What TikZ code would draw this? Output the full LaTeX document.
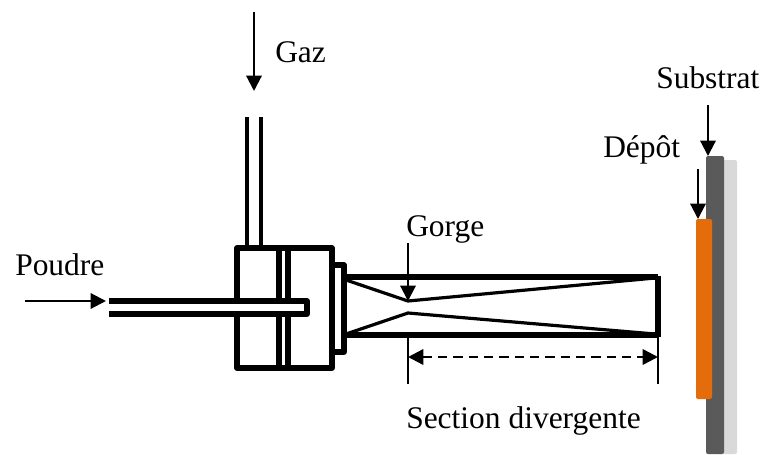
\documentclass[tikz,border=0pt]{standalone}
\usepackage{fontspec}
\setmainfont{Liberation Serif}
\usetikzlibrary{arrows.meta}
\definecolor{subdark}{HTML}{5A5A5A}
\definecolor{sublight}{HTML}{D9D9D9}
\definecolor{depot}{HTML}{E46C0A}
\tikzset{
  x=0.75pt,y=-0.75pt,
  wall/.style={line width=3.8pt,line join=round},
  thinwall/.style={line width=2.4pt},
  guide/.style={line width=1.6pt},
  flow/.style={line width=1.6pt,-{Triangle[length=11.5pt,width=11.5pt]}},
  label/.style={font=\fontsize{23.6}{26}\selectfont,anchor=base west,inner sep=0pt},
  plate/.style={rounded corners=1.5pt,draw=none}
}
\begin{document}
\begin{tikzpicture}
\useasboundingbox (0,0) rectangle (763,454);
% plates
\fill[sublight,plate] (716,160) rectangle (737,454);
\fill[subdark,plate] (706,156) rectangle (724,454);
\fill[depot,plate] (696,219) rectangle (712,399);
% labels
\node[label] (gaz) at (275,62) {Gaz};
\node[label] (substrat) at (656,88) {Substrat};
\node[label] (depotl) at (603,157) {Dépôt};
\node[label] (gorge) at (406,236) {Gorge};
\node[label] (poudre) at (15,275) {Poudre};
\node[label] (section) at (406,428) {Section divergente};
% coordinates
\coordinate (gazS) at (254,12);
\coordinate (gazE) at (254,91);
\coordinate (subS) at (708,105);
\coordinate (subE) at (708,156);
\coordinate (depS) at (698,169);
\coordinate (depE) at (698,219);
\coordinate (gorS) at (408,243);
\coordinate (gorE) at (408,301);
\coordinate (pouS) at (25,301);
\coordinate (pouE) at (106,301);
\coordinate (thrU) at (408,301);
\coordinate (thrL) at (408,313);
\coordinate (exitU) at (658,277);
\coordinate (exitL) at (658,335);
\coordinate (guideA) at (408,384);
\coordinate (guideB) at (658,384);
\coordinate (dimA) at (408,357);
\coordinate (dimB) at (658,357);
% gas pipe
\draw[thinwall] (247,117) -- (247,248);
\draw[thinwall] (261,117) -- (261,248);
% body
\draw[wall] (237,248) rectangle (332,368);
\draw[wall] (279,248) -- (279,368);
\draw[wall] (288,248) -- (288,368);
% flange
\draw[wall] (332,265) -- (344,265) -- (344,352) -- (332,352);
% powder tube
\fill[white] (109,301) rectangle (307,314);
\draw[wall] (109,301) -- (307,301) -- (307,314) -- (109,314);
% nozzle
\draw[wall] (344,277) -- (exitU);
\draw[wall] (344,335) -- (exitL);
\draw[wall] (658,275.5) -- (658,336.5);
\draw[thinwall] (346,280) -- (thrU) -- (655,278);
\draw[thinwall] (346,334) -- (thrL) -- (655,334);
% guides
\draw[guide] (408,335) -- (guideA);
\draw[guide] (exitL) -- (guideB);
\draw[line width=1.8pt,dash pattern=on 7pt off 4.5pt,{Triangle[length=11.5pt,width=11.5pt]}-{Triangle[length=11.5pt,width=11.5pt]}] (dimA) -- (dimB);
% arrows
\draw[flow] (gazS) -- (gazE);
\draw[flow] (subS) -- (subE);
\draw[flow] (depS) -- (depE);
\draw[flow] (gorS) -- (gorE);
\draw[flow] (pouS) -- (pouE);
\end{tikzpicture}
\end{document}
